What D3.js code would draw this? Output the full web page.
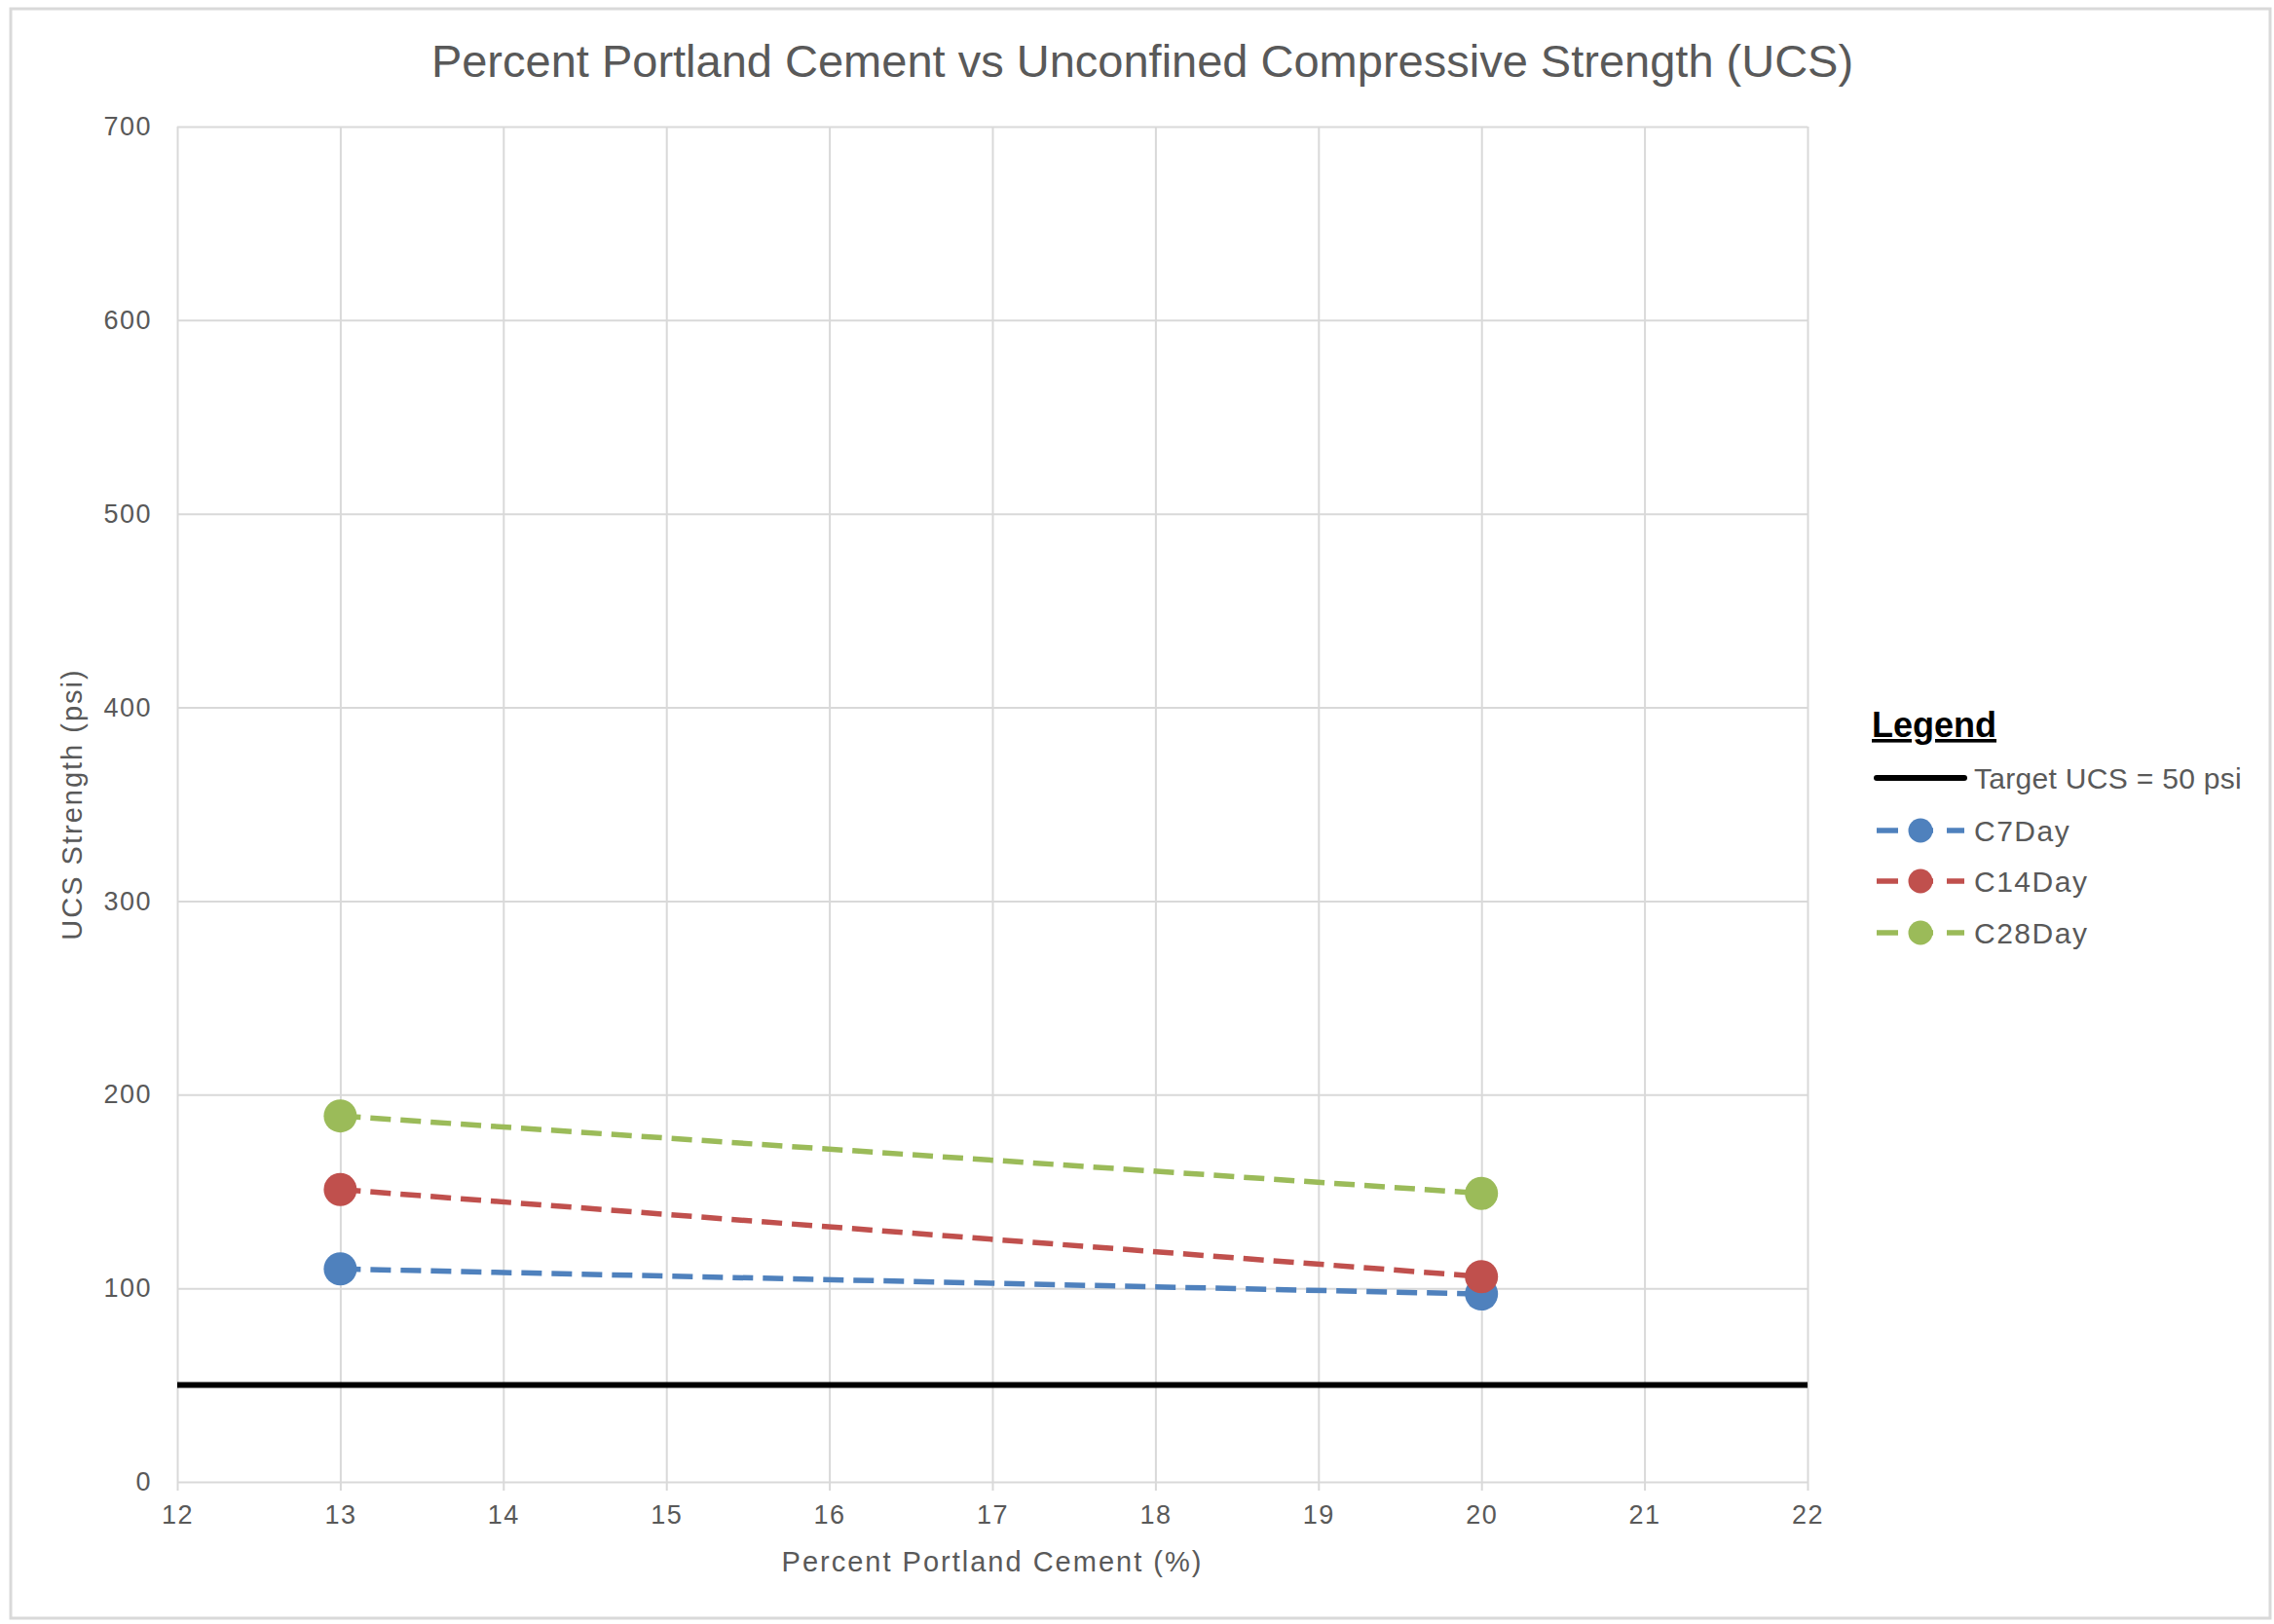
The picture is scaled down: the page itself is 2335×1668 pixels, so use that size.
<!DOCTYPE html>
<html>
<head>
<meta charset="utf-8">
<script src="https://cdn.jsdelivr.net/npm/d3@7"></script>
<style>
  body { margin: 0; background: #fff; }
  svg { display: block; font-family: "Liberation Sans", Arial, sans-serif; }
</style>
</head>
<body>
<script>
// Valeurs
const percentCement = [13, 20];
const c7Day = [110, 97];
const c14Day = [151, 106];
const c28Day = [189, 149];
const targetUcs = 50;

const xTicks = [12, 13, 14, 15, 16, 17, 18, 19, 20, 21, 22];
const yTicks = [0, 100, 200, 300, 400, 500, 600, 700];

const seriesNames = ["C7Day", "C14Day", "C28Day"];
const seriesValues = [c7Day, c14Day, c28Day];
const seriesColors = ["#4f81bd", "#c0504d", "#9bbb59"];

const width = 2335;
const height = 1668;
const plot = { left: 182, right: 1856, top: 130, bottom: 1522 };

const svg = d3.select("body").append("svg").attr("width", width).attr("height", height);

// Cadre du graphique
svg.append("rect")
    .attr("x", 11).attr("y", 9)
    .attr("width", 2320).attr("height", 1653)
    .attr("fill", "#fff")
    .attr("stroke", "#d9d9d9")
    .attr("stroke-width", 3);

const x = d3.scaleLinear().domain([12, 22]).range([plot.left, plot.right]);
const y = d3.scaleLinear().domain([0, 700]).range([plot.bottom, plot.top]);

// Grille verticale + graduations de l'axe X
const xAxis = d3.axisBottom(x)
    .tickValues(xTicks)
    .tickSize(-(plot.bottom - plot.top))
    .tickPadding(22)
    .tickFormat(d3.format("d"));

const gx = svg.append("g")
    .attr("transform", `translate(0,${plot.bottom})`)
    .call(xAxis);
gx.select(".domain").remove();
gx.selectAll("line").attr("stroke", "#d9d9d9").attr("stroke-width", 2).attr("y2", -(plot.bottom - plot.top)).attr("y1", 9);
gx.selectAll("text")
    .attr("fill", "#595959")
    .style("font-size", "27px")
    .style("letter-spacing", "1.5px")
    .attr("y", 24)
    .attr("dy", "0.71em");

// Grille horizontale + graduations de l'axe Y
const yAxis = d3.axisLeft(y)
    .tickValues(yTicks)
    .tickSize(-(plot.right - plot.left))
    .tickPadding(26);

const gy = svg.append("g")
    .attr("transform", `translate(${plot.left},0)`)
    .call(yAxis);
gy.select(".domain").remove();
gy.selectAll("line").attr("stroke", "#d9d9d9").attr("stroke-width", 2);
gy.selectAll("text")
    .attr("fill", "#595959")
    .style("font-size", "27px")
    .style("letter-spacing", "1.5px");

// Ligne cible
svg.append("line")
    .attr("x1", x(12)).attr("x2", x(22))
    .attr("y1", y(targetUcs)).attr("y2", y(targetUcs))
    .attr("stroke", "#000")
    .attr("stroke-width", 6);

// Séries
const line = d3.line()
    .x((d) => x(d[0]))
    .y((d) => y(d[1]));

seriesValues.forEach((values, i) => {
    const pts = percentCement.map((p, j) => [p, values[j]]);
    svg.append("path")
        .datum(pts)
        .attr("d", line)
        .attr("fill", "none")
        .attr("stroke", seriesColors[i])
        .attr("stroke-width", 5.5)
        .attr("stroke-dasharray", "21,10");
    svg.selectAll(null)
        .data(pts)
        .enter()
        .append("circle")
        .attr("cx", (d) => x(d[0]))
        .attr("cy", (d) => y(d[1]))
        .attr("r", 17)
        .attr("fill", seriesColors[i]);
});

// Titres
svg.append("text")
    .attr("x", 1173).attr("y", 79)
    .attr("text-anchor", "middle")
    .attr("fill", "#595959")
    .style("font-size", "47px")
    .text("Percent Portland Cement vs Unconfined Compressive Strength (UCS)");

svg.append("text")
    .attr("x", (plot.left + plot.right) / 2).attr("y", 1614)
    .attr("text-anchor", "middle")
    .attr("fill", "#595959")
    .style("font-size", "29px")
    .style("letter-spacing", "2px")
    .text("Percent Portland Cement (%)");

svg.append("text")
    .attr("transform", `translate(84,${(plot.top + plot.bottom) / 2}) rotate(-90)`)
    .attr("text-anchor", "middle")
    .attr("fill", "#595959")
    .style("font-size", "29px")
    .style("letter-spacing", "2px")
    .text("UCS Strength (psi)");

// Légende
const legend = svg.append("g");
legend.append("text")
    .attr("x", 1922).attr("y", 757)
    .attr("fill", "#000")
    .style("font-size", "36px")
    .style("font-weight", "bold")
    .style("text-decoration", "underline")
    .text("Legend");

const rowY = [799, 853, 905, 958];
legend.append("line")
    .attr("x1", 1927).attr("x2", 2017)
    .attr("y1", rowY[0]).attr("y2", rowY[0])
    .attr("stroke", "#000")
    .attr("stroke-width", 6)
    .attr("stroke-linecap", "round");
legend.append("text")
    .attr("x", 2027).attr("y", rowY[0])
    .attr("dy", "0.35em")
    .attr("fill", "#595959")
    .style("font-size", "30px")
    .style("letter-spacing", "0.3px")
    .text(`Target UCS = ${targetUcs} psi`);

seriesNames.forEach((name, i) => {
    const ly = rowY[i + 1];
    legend.append("line")
        .attr("x1", 1927).attr("x2", 2017)
        .attr("y1", ly).attr("y2", ly)
        .attr("stroke", seriesColors[i])
        .attr("stroke-width", 5.5)
        .attr("stroke-dasharray", "22,14");
    legend.append("circle")
        .attr("cx", 1972).attr("cy", ly)
        .attr("r", 12.5)
        .attr("fill", seriesColors[i]);
    legend.append("text")
        .attr("x", 2027).attr("y", ly)
        .attr("dy", "0.35em")
        .attr("fill", "#595959")
        .style("font-size", "30px")
        .style("letter-spacing", "1.5px")
        .text(name);
});
</script>
</body>
</html>
